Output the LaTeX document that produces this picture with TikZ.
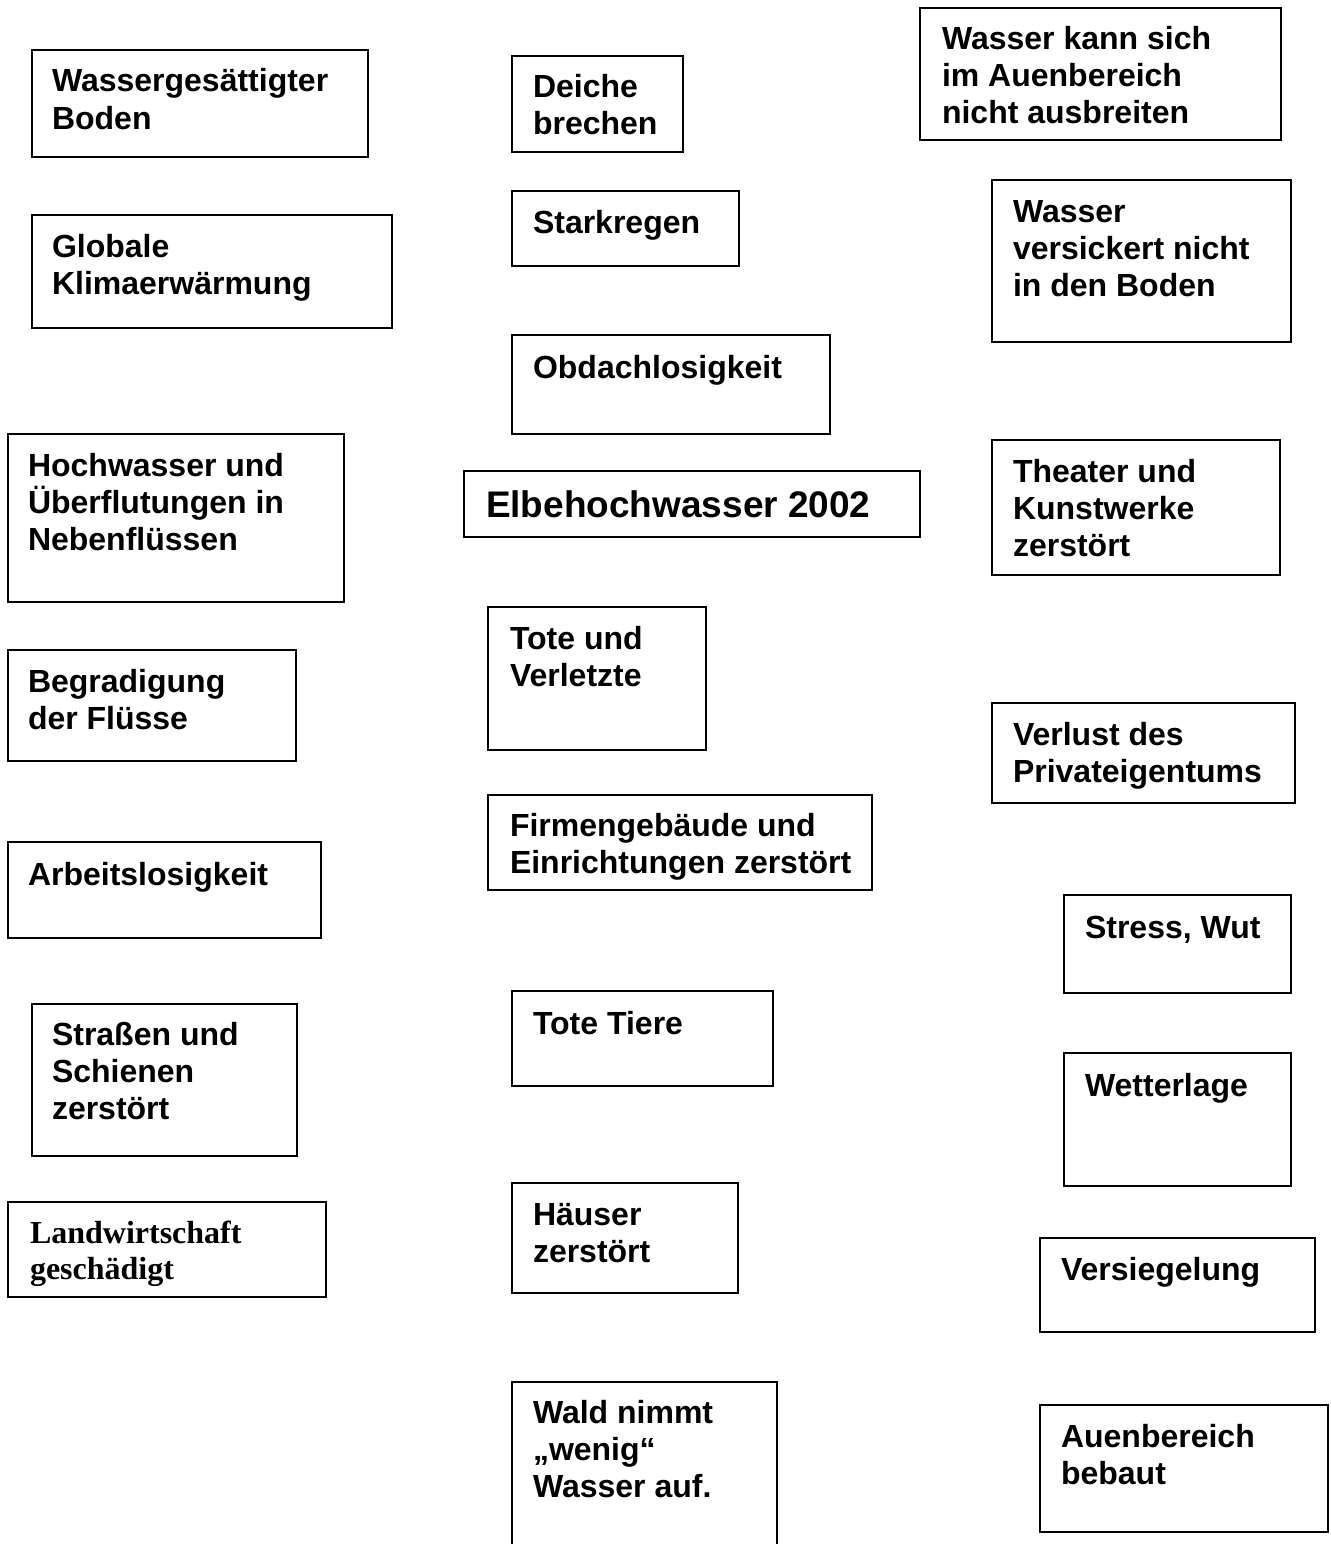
\documentclass[tikz,border=0pt]{standalone}
\usepackage{fontspec}
\setmainfont{Liberation Sans}
\newfontfamily\timesfont{Liberation Serif}
\tikzset{
  card/.style={draw=black, line width=1.5pt, inner sep=0pt, outer sep=0pt,
               anchor=north west, fill=none},
  cardtext/.style={inner sep=0pt, outer sep=0pt, anchor=base west, align=left,
                   font=\fontsize{32}{37}\selectfont\bfseries},
  titletext/.style={cardtext, font=\fontsize{37}{44}\selectfont\bfseries},
  serifttext/.style={cardtext, font=\fontsize{32}{36}\selectfont\timesfont\bfseries},
}
% \cardat{name}{x1}{y1}{x2}{y2}{text x}{last baseline}{style}{text}
\newcommand\cardat[9]{%
  \node[card, minimum width={(#4-#2)*1pt}, minimum height={(#5-#3)*1pt}]
       (#1) at (#2pt,-#3pt) {};
  \node[#8] (#1-text) at (#6pt,-#7pt) {#9};
}
\begin{document}
\begin{tikzpicture}[x=1pt,y=1pt]
\useasboundingbox (0,0) rectangle (1330,-1544);
\begin{scope}
\clip (0,0) rectangle (1330,-1544);
% left column
\cardat{boden}{32}{50}{368}{157}{52}{129}{cardtext}{Wassergesättigter\\Boden}
\cardat{klima}{32}{215}{392}{328}{52}{294}{cardtext}{Globale\\Klimaerwärmung}
\cardat{neben}{8}{434}{344}{602}{28}{550}{cardtext}{Hochwasser und\\Überflutungen in\\Nebenflüssen}
\cardat{begrad}{8}{650}{296}{761}{28}{729}{cardtext}{Begradigung\\der Flüsse}
\cardat{arbeit}{8}{842}{321}{938}{28}{885}{cardtext}{Arbeitslosigkeit}
\cardat{strassen}{32}{1004}{297}{1156}{52}{1119}{cardtext}{Straßen und\\Schienen\\zerstört}
\cardat{landw}{8}{1202}{326}{1297}{30}{1279}{serifttext}{Landwirtschaft\\geschädigt}
% middle column
\cardat{deiche}{512}{56}{683}{152}{533}{135}{cardtext}{Deiche\\brechen}
\cardat{regen}{512}{191}{739}{266}{533}{233}{cardtext}{Starkregen}
\cardat{obdach}{512}{335}{830}{434}{533}{378}{cardtext}{Obdachlosigkeit}
\cardat{elbe}{464}{471}{920}{537}{486}{517}{titletext}{Elbehochwasser 2002}
\cardat{tote}{488}{607}{706}{750}{510}{686}{cardtext}{Tote und\\Verletzte}
\cardat{firmen}{488}{795}{872}{890}{510}{873}{cardtext}{Firmengebäude und\\Einrichtungen zerstört}
\cardat{tiere}{512}{991}{773}{1086}{533}{1034}{cardtext}{Tote Tiere}
\cardat{haeuser}{512}{1183}{738}{1293}{533}{1262}{cardtext}{Häuser\\zerstört}
\cardat{wald}{512}{1382}{777}{1570}{533}{1497}{cardtext}{Wald nimmt\\„wenig“\\Wasser auf.}
% right column
\cardat{aue}{920}{8}{1281}{140}{942}{124}{cardtext}{Wasser kann sich\\im Auenbereich\\nicht ausbreiten}
\cardat{versick}{992}{180}{1291}{342}{1013}{296}{cardtext}{Wasser\\versickert nicht\\in den Boden}
\cardat{theater}{992}{440}{1280}{575}{1013}{556}{cardtext}{Theater und\\Kunstwerke\\zerstört}
\cardat{privat}{992}{703}{1295}{803}{1013}{782}{cardtext}{Verlust des\\Privateigentums}
\cardat{stress}{1064}{895}{1291}{993}{1085}{938}{cardtext}{Stress, Wut}
\cardat{wetter}{1064}{1053}{1291}{1186}{1085}{1096}{cardtext}{Wetterlage}
\cardat{siegel}{1040}{1238}{1315}{1332}{1061}{1280}{cardtext}{Versiegelung}
\cardat{bebaut}{1040}{1405}{1328}{1532}{1061}{1484}{cardtext}{Auenbereich\\bebaut}
\end{scope}
\end{tikzpicture}
\end{document}
